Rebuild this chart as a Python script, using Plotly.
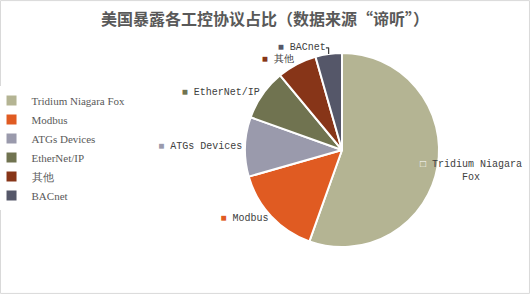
import plotly.graph_objects as go

labels = ["Tridium Niagara Fox", "Modbus", "ATGs Devices", "EtherNet/IP", "其他", "BACnet"]
values = [55.4, 15.1, 9.9, 8.5, 6.6, 4.4]
colors = ["#B4B493", "#E05B22", "#9A9AAC", "#707350", "#873518", "#555769"]
label_texts = ["Tridium Niagara<br>Fox", "Modbus", "ATGs Devices", "EtherNet/IP", "其他", "BACnet"]
title_text = "美国暴露各工控协议占比（数据来源“谛听”）"

custom = [[c, t] for c, t in zip(colors, label_texts)]
# The first (largest) slice's label sits over the pie edge, as in the reference; drawn as an annotation
templates = [""] + ['<span style="color:%{customdata[0]}">■</span> %{customdata[1]}'] * (len(labels) - 1)

fig = go.Figure(go.Pie(
    labels=labels,
    values=values,
    sort=False,
    direction="clockwise",
    rotation=0,
    marker=dict(colors=colors, line=dict(color="white", width=2)),
    customdata=custom,
    texttemplate=templates,
    textposition="outside",
    textfont=dict(family="Liberation Mono", size=10, color="#404040"),
    hoverinfo="label+percent",
    domain=dict(x=[245/530, 439/530], y=[1 - 247/294, 1 - 53/294]),
))

fig.add_annotation(
    x=471/530, y=1 - 171/294, xref="paper", yref="paper",
    xanchor="center", yanchor="middle", showarrow=False, align="center",
    text='<span style="color:white">□</span> ' + label_texts[0],
    font=dict(family="Liberation Mono", size=10, color="#404040"),
)

fig.update_layout(
    width=530, height=294,
    margin=dict(l=0, r=0, t=0, b=0, autoexpand=False),
    paper_bgcolor="white",
    plot_bgcolor="white",
    title=dict(text=title_text, x=0.5, xanchor="center", y=1 - 19/294, yanchor="middle",
               font=dict(family="Noto Sans CJK SC", size=16, color="#595959", weight=600)),
    legend=dict(x=-0.016, xanchor="left", y=1 - 86/294, yanchor="top",
                font=dict(family="Liberation Serif", size=11, color="#595959"),
                tracegroupgap=0, itemwidth=30),
    showlegend=True,
    shapes=[dict(type="rect", xref="paper", yref="paper", x0=0.001, y0=0.002, x1=0.999, y1=0.998,
                 line=dict(color="#D9D9D9", width=1))],
)

fig.write_html("out.html")
